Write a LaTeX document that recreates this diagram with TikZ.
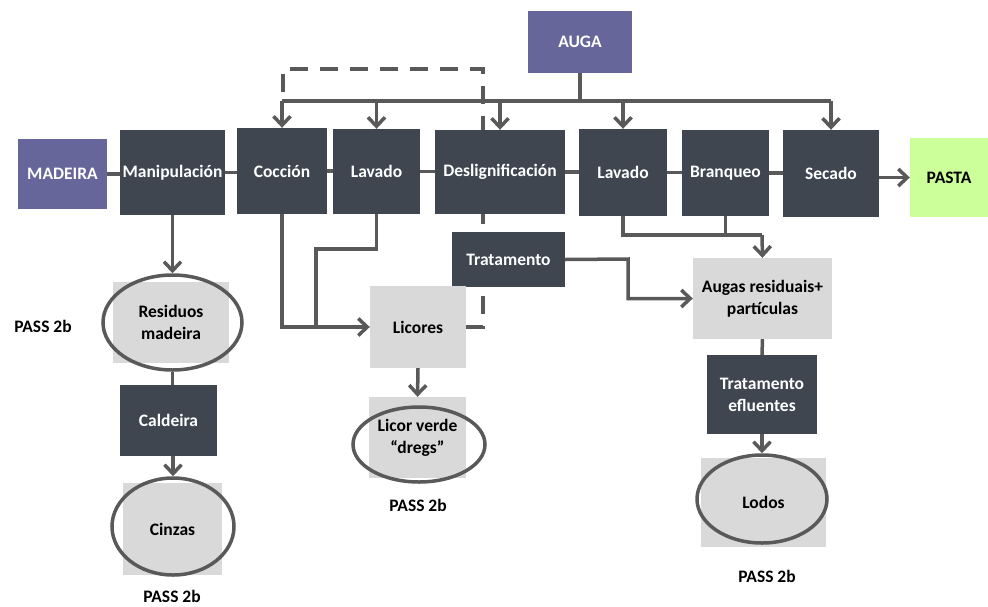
\documentclass[tikz,border=0pt]{standalone}
\usepackage{fontspec}
\setmainfont{Carlito}
\usetikzlibrary{arrows.meta,shapes.geometric,backgrounds}

\definecolor{boxdark}{HTML}{3F4650}
\definecolor{boxpurple}{HTML}{67669A}
\definecolor{boxlight}{HTML}{D9D9D9}
\definecolor{boxgreen}{HTML}{CCFF99}
\definecolor{wire}{HTML}{595959}

\tikzset{
  labelfont/.style={font=\bfseries\fontsize{17.5}{22}\selectfont},
  stagebox/.style={labelfont, fill=boxdark, text=white, inner sep=0pt, align=center},
  sourcebox/.style={labelfont, fill=boxpurple, text=white, inner sep=0pt, align=center},
  productbox/.style={labelfont, fill=boxgreen, text=black, inner sep=0pt, align=center},
  streambox/.style={labelfont, fill=boxlight, text=black, inner sep=0pt, align=center},
  wasterim/.style={ellipse, draw=wire, line width=3.5pt, inner sep=0pt},
  passlabel/.style={labelfont, inner sep=0pt},
  wireline/.style={draw=wire, line width=3.5pt},
  wirearrow/.style={draw=wire, line width=3.5pt, -{Straight Barb[length=9pt,width=17pt]}},
  wiredash/.style={draw=wire, line width=4pt, dash pattern=on 18pt off 12pt},
}

\begin{document}
\begin{tikzpicture}[x=1pt, y=-1pt]
\useasboundingbox (0,0) rectangle (988,606);

% water supply
\node[sourcebox, minimum width=104pt, minimum height=62pt] (auga) at (580,42) {AUGA};

% main process line
\node[sourcebox, minimum width=89pt, minimum height=70pt] (madeira) at (62.5,174) {MADEIRA};
\node[stagebox, minimum width=105pt, minimum height=85pt] (manip) at (172.5,172.5) {Manipulación};
\node[stagebox, minimum width=90pt, minimum height=86pt] (coccion) at (282,171) {Cocción};
\node[stagebox, minimum width=87pt, minimum height=85pt] (lavadoA) at (376.5,171.5) {Lavado};
\node[stagebox, minimum width=130pt, minimum height=84pt] (deslig) at (500,172) {Deslignificación};
\node[stagebox, minimum width=88pt, minimum height=87pt] (lavadoB) at (623,172.5) {Lavado};
\node[stagebox, minimum width=87pt, minimum height=86pt] (branqueo) at (725.5,173) {Branqueo};
\node[stagebox, minimum width=96pt, minimum height=87pt] (secado) at (831,173.5) {Secado};
\node[productbox, minimum width=78pt, minimum height=79pt] (pasta) at (949,177.5) {PASTA};

% secondary treatment and streams
\node[stagebox, minimum width=113pt, minimum height=55pt] (trat) at (508.5,259.5) {Tratamento};
\node[streambox, minimum width=96pt, minimum height=82pt] (licores) at (418,327) {Licores};
\node[streambox, minimum width=139pt, minimum height=81pt] (augas) at (762.5,298.5) {Augas residuais+\\partículas};
\node[stagebox, minimum width=110pt, minimum height=79pt] (tratef) at (762,394.5) {Tratamento\\efluentes};
\node[stagebox, minimum width=97pt, minimum height=71pt] (caldeira) at (168.5,420.5) {Caldeira};

% waste outputs: grey panel with an elliptical rim
\node[streambox, minimum width=116pt, minimum height=81pt] (resid) at (171,322.5) {Residuos\\madeira};
\node[wasterim, minimum width=139pt, minimum height=95pt] (residE) at (172.5,322.5) {};
\node[streambox, minimum width=99pt, minimum height=92pt] (cinzas) at (172.5,529) {Cinzas};
\node[wasterim, minimum width=122pt, minimum height=97pt] (cinzasE) at (173,526.5) {};
\node[streambox, minimum width=97pt, minimum height=81pt] (licorv) at (417.5,437.5) {Licor verde\\“dregs”};
\node[wasterim, minimum width=132pt, minimum height=75pt] (licorvE) at (419,444.5) {};
\node[streambox, minimum width=125pt, minimum height=89pt] (lodos) at (763.5,502.5) {Lodos};
\node[wasterim, minimum width=130pt, minimum height=88pt] (lodosE) at (762,499) {};

% classification labels
\node[passlabel] (passA) at (43,326) {PASS 2b};
\node[passlabel] (passB) at (172,596) {PASS 2b};
\node[passlabel] (passC) at (418,505) {PASS 2b};
\node[passlabel] (passD) at (767,576) {PASS 2b};

% routing points
\coordinate (bus) at (580,101);
\coordinate (jl) at (316,249);
\coordinate (jt) at (628,259);
\coordinate (jw) at (762,235);
\coordinate (d1) at (483,69);
\coordinate (d0) at (283,69);

\begin{scope}[on background layer]
  % recirculation loop, partly hidden behind the boxes
  \draw[wiredash] (licores.east) -| (d1) -- (d0) -- (d0 |- bus);
\end{scope}

% main line links
\draw[wireline] (madeira.east) -- (madeira.east -| manip.west);
\draw[wireline] (manip.east) -- (manip.east -| coccion.west);
\draw[wireline] (coccion.east) -- (coccion.east -| lavadoA.west);
\draw[wireline] (lavadoA.east) -- (lavadoA.east -| deslig.west);
\draw[wireline] (deslig.east) -- (deslig.east -| lavadoB.west);
\draw[wireline] (lavadoB.east) -- (lavadoB.east -| branqueo.west);
\draw[wireline] (branqueo.east) -- (branqueo.east -| secado.west);
\draw[wirearrow] (secado.east |- pasta.west) -- (pasta.west);

% water distribution
\draw[wireline] (auga.south) -- (bus);
\draw[wireline] (coccion.north |- bus) -- (secado.north |- bus);
\draw[wirearrow] (coccion.north |- bus) -- (coccion.north);
\draw[wirearrow] (lavadoA.north |- bus) -- (lavadoA.north);
\draw[wirearrow] (deslig.north |- bus) -- (deslig.north);
\draw[wirearrow] (lavadoB.north |- bus) -- (lavadoB.north);
\draw[wirearrow] (secado.north |- bus) -- (secado.north);

% wood residues and boiler
\draw[wirearrow] (manip.south) -- (residE.north);
\draw[wireline] (residE.south) -- (residE.south |- caldeira.north);
\draw[wirearrow] (caldeira.south -| cinzasE.north) -- (cinzasE.north);

% liquors
\draw[wirearrow] (coccion.south) |- (licores.west);
\draw[wireline] (lavadoA.south) |- (jl) -- (jl |- licores.west);
\draw[wirearrow] (licores.south) -- (licorv.north);

% effluents
\draw[wirearrow] (trat.east) -- (jt) |- (augas.west);
\draw[wireline] (lavadoB.south) |- (jw);
\draw[wireline] (branqueo.south) -- (branqueo.south |- jw);
\draw[wirearrow] (jw) -- (augas.north);
\draw[wireline] (augas.south) -- (tratef.north);
\draw[wirearrow] (tratef.south) -- (lodosE.north);
\end{tikzpicture}
\end{document}
